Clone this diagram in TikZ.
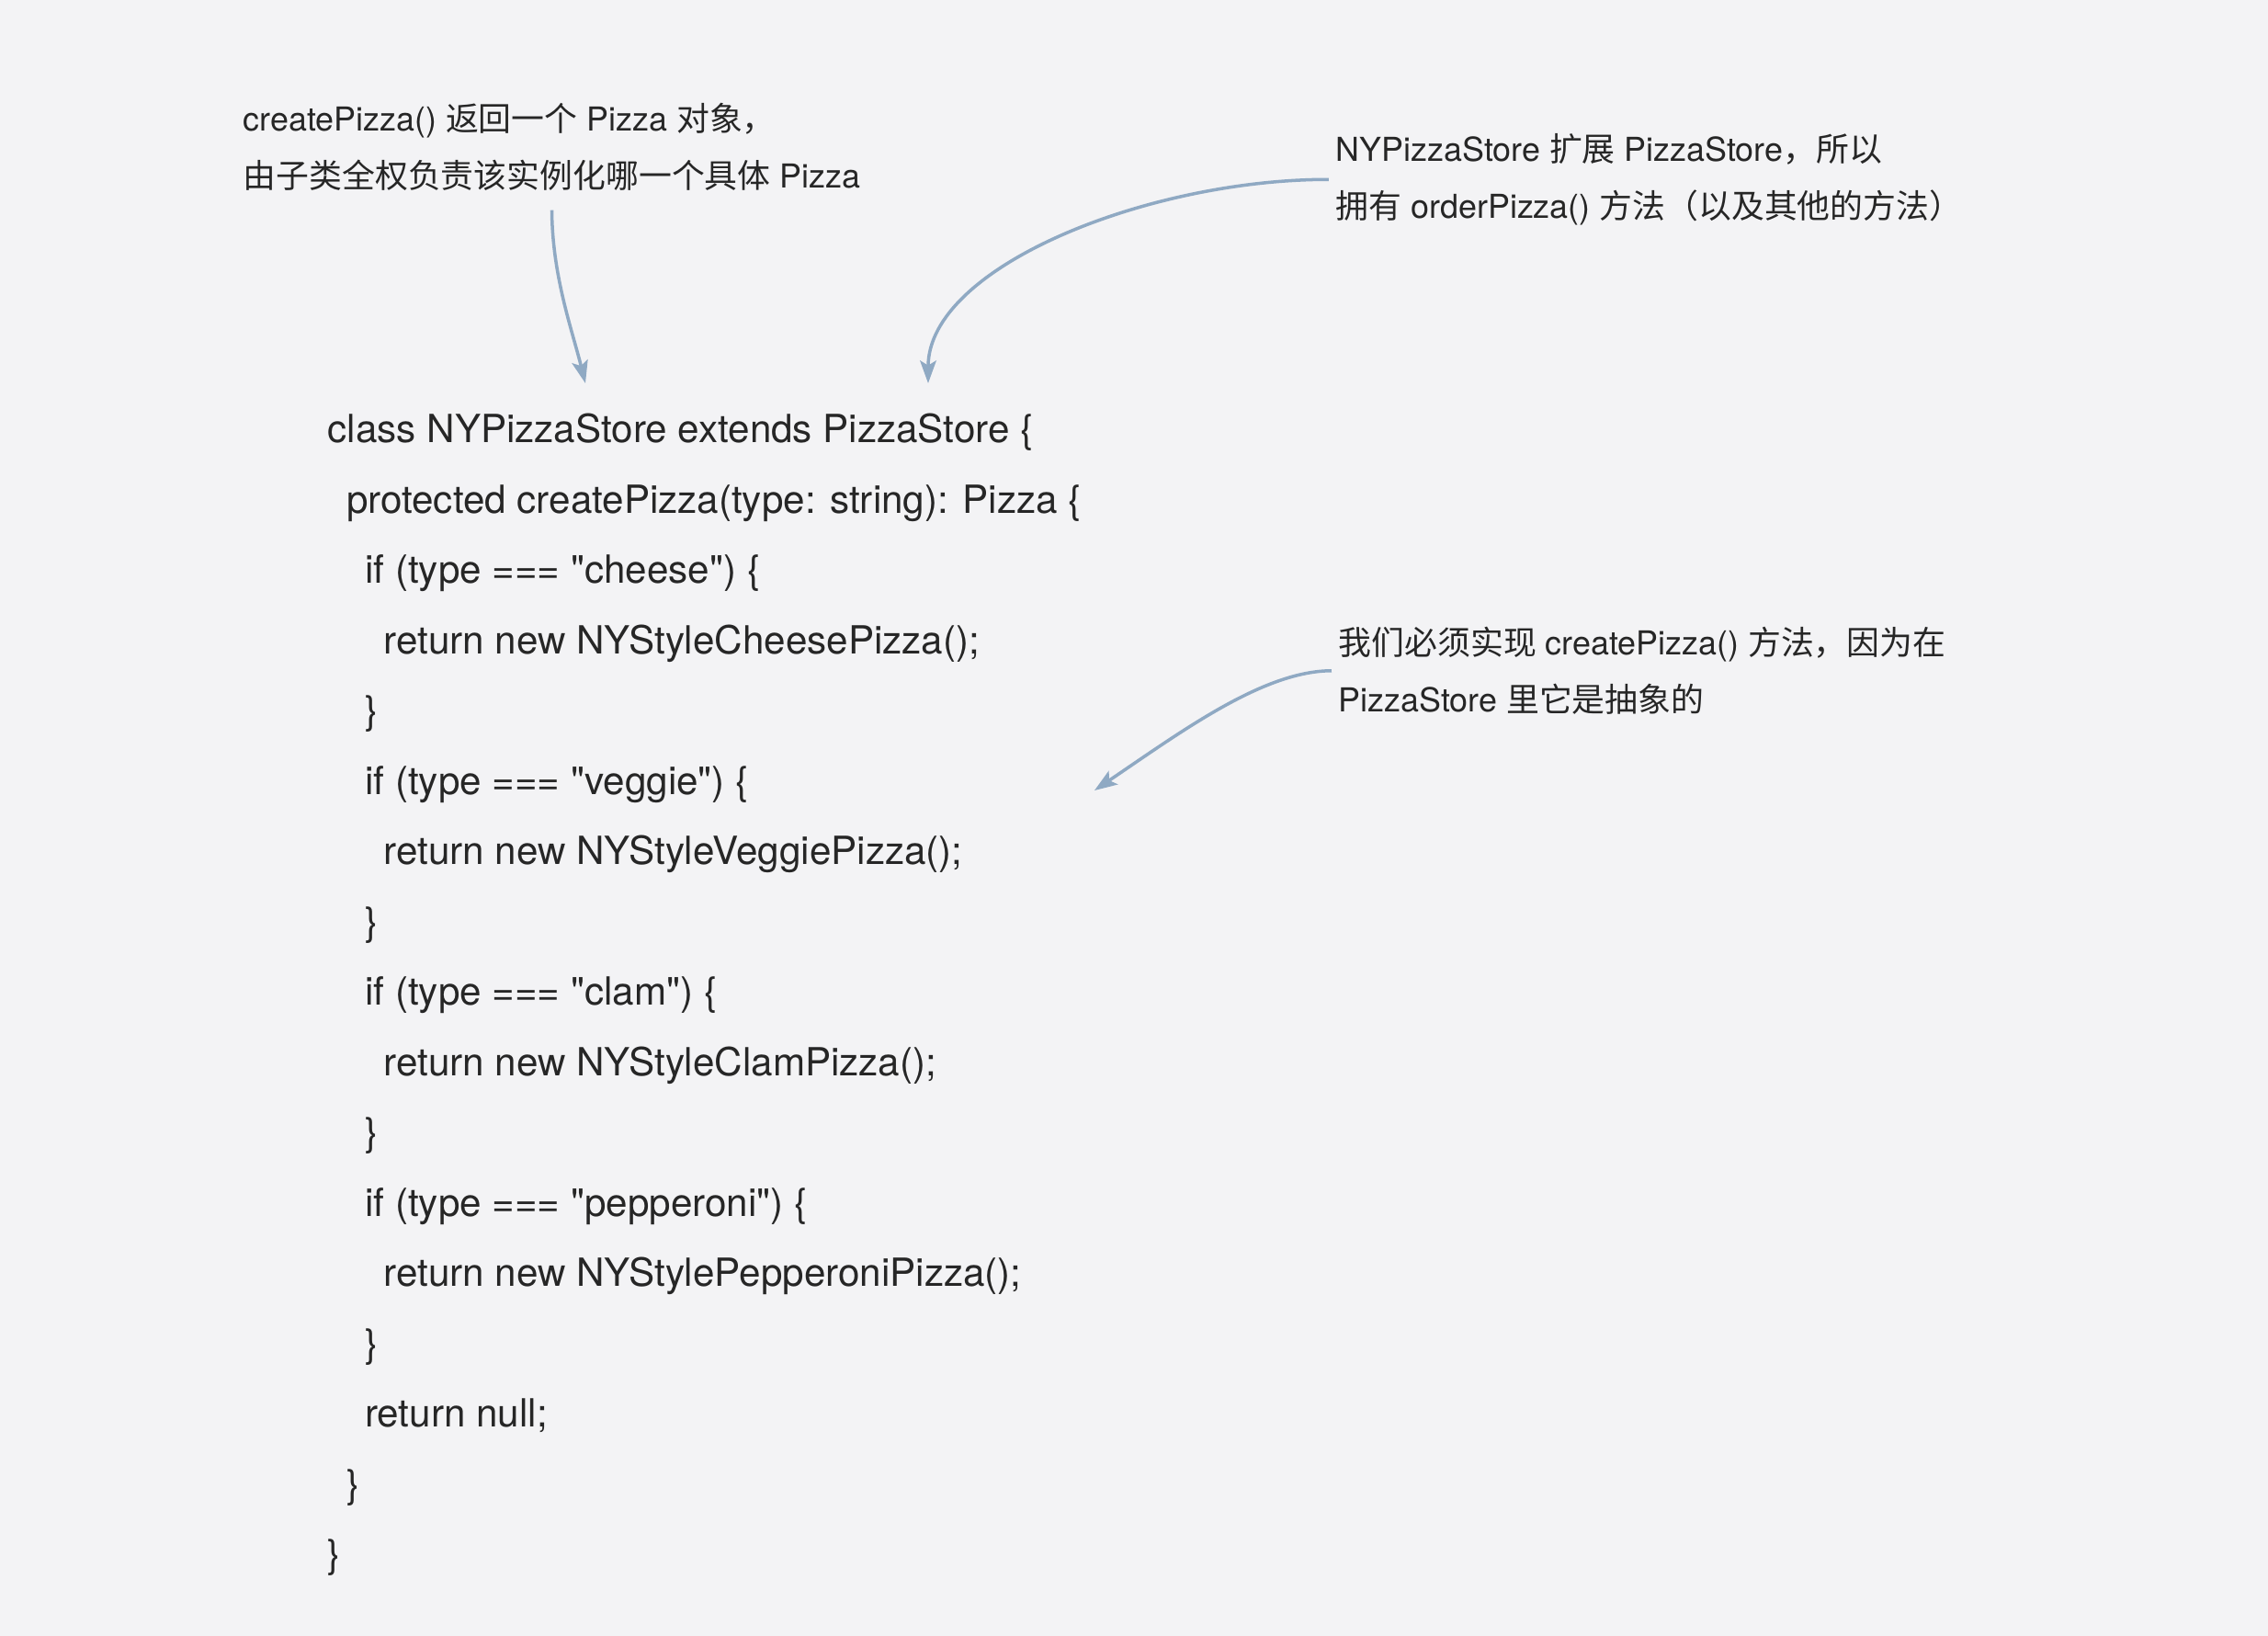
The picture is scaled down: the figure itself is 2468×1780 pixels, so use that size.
\documentclass[tikz,border=0pt]{standalone}
\usepackage{fontspec}
\usepackage{xcolor}
\usepackage{tikz}
\usetikzlibrary{arrows.meta}
\setmainfont{TeX Gyre Heros}
\newfontfamily\cjk{Noto Sans CJK SC}
\definecolor{bggray}{HTML}{F3F3F5}
\definecolor{inkgray}{HTML}{262626}
\definecolor{linkblue}{HTML}{8FA9C3}

\begin{document}
\begin{tikzpicture}[x=0.01cm, y=-0.01cm,
	note/.style={anchor=base west, inner sep=0pt, align=left, text=inkgray,
		font=\fontsize{10.2}{17.9}\selectfont},
	code/.style={anchor=base west, inner sep=0pt, text=inkgray,
		font=\fontsize{12}{14}\selectfont},
	pointer/.style={draw=linkblue, line width=1pt,
		-{Stealth[length=7pt,width=5pt,inset=1.5pt]}}]
	% Background
	\fill[bggray] (0,0) rectangle (2468,1780);

	% Code lines
	\foreach \lvl/\txt [count=\i] in {
			0/{class NYPizzaStore extends PizzaStore \{},
			1/{protected createPizza(type: string): Pizza \{},
			2/{if (type === \textquotedbl cheese\textquotedbl) \{},
			3/{return new NYStyleCheesePizza();},
			2/{\}},
			2/{if (type === \textquotedbl veggie\textquotedbl) \{},
			3/{return new NYStyleVeggiePizza();},
			2/{\}},
			2/{if (type === \textquotedbl clam\textquotedbl) \{},
			3/{return new NYStyleClamPizza();},
			2/{\}},
			2/{if (type === \textquotedbl pepperoni\textquotedbl) \{},
			3/{return new NYStylePepperoniPizza();},
			2/{\}},
			2/{return null;},
			1/{\}},
			0/{\}}} {
		\node[code] (code\i) at ({356+20.3*\lvl}, {482+76.5*(\i-1)}) {\txt};
	}

	% Notes (placed at the baseline of their last line)
	\node[note] (note1) at (264,205)
		{createPizza() {\cjk 返回一个} Pizza {\cjk 对象，}\\
		 {\cjk 由子类全权负责该实例化哪一个具体} Pizza};
	\node[note] (note2) at (1453,238)
		{NYPizzaStore {\cjk 扩展} PizzaStore{\cjk ，所以}\\
		 {\cjk 拥有} orderPizza() {\cjk 方法（以及其他的方法）}};
	\node[note] (note3) at (1456,775)
		{{\cjk 我们必须实现} createPizza() {\cjk 方法，因为在}\\
		 PizzaStore {\cjk 里它是抽象的}};

	% Arrow tips
	\coordinate (tip1) at (637,417);
	\coordinate (tip2) at (1010,417);
	\coordinate (tip3) at (1191,860);

	% Arrows
	\draw[pointer] ([shift={(0,20)}]note1.south) .. controls (601,300) and (622,357) .. (tip1);
	\draw[pointer] ([xshift=-2pt]note2.west) .. controls (1250,195) and (1010,290) .. (tip2);
	\draw[pointer] ([xshift=-2pt]note3.west) .. controls (1375,730) and (1287,795) .. (tip3);
\end{tikzpicture}
\end{document}
